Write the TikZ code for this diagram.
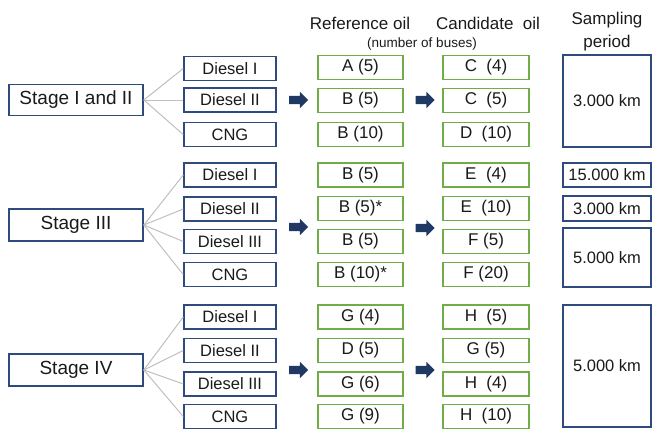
\documentclass[tikz,border=0pt]{standalone}
\usepackage{fontspec}
\setmainfont{Liberation Sans}
\usetikzlibrary{shapes.arrows}
\definecolor{navyline}{HTML}{2F4A7C}
\definecolor{navyfill}{HTML}{1F3864}
\definecolor{oilgreen}{HTML}{70AD47}
\definecolor{linkgray}{HTML}{BFBFBF}
\definecolor{txt}{HTML}{1A1A1A}
\tikzset{
	stagebox/.style={draw=navyline, line width=1.6pt, fill=white, minimum width=134pt, minimum height=31pt, inner sep=0pt, text=txt, font=\fontsize{19}{22}\selectfont},
	fuelbox/.style={draw=navyline, line width=1.5pt, fill=white, minimum width=92pt, minimum height=24pt, inner sep=0pt, text=txt, font=\fontsize{16.5}{19}\selectfont},
	oilbox/.style={draw=oilgreen, line width=1.5pt, fill=white, minimum width=85pt, minimum height=24pt, inner sep=0pt, text=txt, font=\fontsize{17}{20}\selectfont},
	periodbox/.style={draw=navyline, line width=1.6pt, fill=white, minimum width=88pt, inner sep=0pt, text=txt, font=\fontsize{16.5}{19}\selectfont},
	headtext/.style={text=txt, inner sep=0pt, font=\fontsize{17}{20}\selectfont},
	blockarrow/.style={single arrow, fill=navyfill, minimum height=19pt, inner xsep=0pt, inner ysep=4pt, single arrow head extend=4pt},
	link/.style={draw=linkgray, line width=1pt}
}
\begin{document}
\begin{tikzpicture}[x=1pt, y=-1pt]
		\useasboundingbox ( 0, 0 ) rectangle ( 652, 432 );

		% titles
		\node [headtext] (hRef) at ( 360, 23 ) {Reference oil};
		\node [headtext] (hCand) at ( 488, 23 ) {Candidate\ \ oil};
		\node [headtext, font=\fontsize{13.5}{16}\selectfont] (hBus) at ( 422, 44 ) {(number of buses)};
		\node [headtext] (hSamp) at ( 607, 20 ) {Sampling};
		\node [headtext] (hPer) at ( 607, 43 ) {period};

		% stage I and II
		\node [stagebox] (s1) at ( 76, 100 ) {Stage I and II};
		\node [fuelbox] (s1d1) at ( 230, 68.5 ) {Diesel I};
		\node [fuelbox] (s1d2) at ( 230, 100 ) {Diesel II};
		\node [fuelbox] (s1c) at ( 230, 134.5 ) {CNG};
		\draw [link] (s1.east) -- (s1d1.west);
		\draw [link] (s1.east) -- (s1d2.west);
		\draw [link] (s1.east) -- (s1c.west);
		\node [blockarrow] (s1a1) at ( 296.5, 100 ) {};
		\node [oilbox] (s1r1) at ( 360.5, 67.5 ) {A (5)};
		\node [oilbox] (s1r2) at ( 360.5, 100.5 ) {B (5)};
		\node [oilbox] (s1r3) at ( 360.5, 134.5 ) {B (10)};
		\node [blockarrow] (s1a2) at ( 423, 100 ) {};
		\node [oilbox, minimum width=86pt] (s1k1) at ( 486, 67.5 ) {C\ \ (4)};
		\node [oilbox, minimum width=86pt] (s1k2) at ( 486, 100.5 ) {C\ \ (5)};
		\node [oilbox, minimum width=86pt] (s1k3) at ( 486, 134.5 ) {D\ \ (10)};
		\node [periodbox, minimum height=92pt] (s1p) at ( 607, 101 ) {3.000 km};

		% stage III
		\node [stagebox, minimum height=32pt] (s3) at ( 76, 225 ) {Stage III};
		\node [fuelbox] (s3d1) at ( 230, 175 ) {Diesel I};
		\node [fuelbox] (s3d2) at ( 230, 209 ) {Diesel II};
		\node [fuelbox] (s3d3) at ( 230, 241.5 ) {Diesel III};
		\node [fuelbox] (s3c) at ( 230, 274.5 ) {CNG};
		\draw [link] (s3.east) -- (s3d1.west);
		\draw [link] (s3.east) -- (s3d2.west);
		\draw [link] (s3.east) -- (s3d3.west);
		\draw [link] (s3.east) -- (s3c.west);
		\node [blockarrow] (s3a1) at ( 296.5, 227 ) {};
		\node [oilbox] (s3r1) at ( 360.5, 175 ) {B (5)};
		\node [oilbox] (s3r2) at ( 360.5, 208.5 ) {B (5)*};
		\node [oilbox] (s3r3) at ( 360.5, 241.5 ) {B (5)};
		\node [oilbox] (s3r4) at ( 360.5, 274.5 ) {B (10)*};
		\node [blockarrow] (s3a2) at ( 423, 228 ) {};
		\node [oilbox, minimum width=86pt] (s3k1) at ( 486, 175 ) {E\ \ (4)};
		\node [oilbox, minimum width=86pt] (s3k2) at ( 486, 208.5 ) {E\ \ (10)};
		\node [oilbox, minimum width=86pt] (s3k3) at ( 486, 241.5 ) {F (5)};
		\node [oilbox, minimum width=86pt] (s3k4) at ( 486, 274.5 ) {F (20)};
		\node [periodbox, minimum height=24pt] (s3p1) at ( 607, 175 ) {15.000 km};
		\node [periodbox, minimum height=25pt] (s3p2) at ( 607, 208.5 ) {3.000 km};
		\node [periodbox, minimum height=59pt] (s3p3) at ( 607, 257.5 ) {5.000 km};

		% stage IV
		\node [stagebox, minimum height=32pt] (s4) at ( 76, 370 ) {Stage IV};
		\node [fuelbox] (s4d1) at ( 230, 317 ) {Diesel I};
		\node [fuelbox] (s4d2) at ( 230, 350.5 ) {Diesel II};
		\node [fuelbox] (s4d3) at ( 230, 384 ) {Diesel III};
		\node [fuelbox] (s4c) at ( 230, 416.5 ) {CNG};
		\draw [link] (s4.east) -- (s4d1.west);
		\draw [link] (s4.east) -- (s4d2.west);
		\draw [link] (s4.east) -- (s4d3.west);
		\draw [link] (s4.east) -- (s4c.west);
		\node [blockarrow] (s4a1) at ( 296.5, 370 ) {};
		\node [oilbox] (s4r1) at ( 360.5, 317 ) {G (4)};
		\node [oilbox] (s4r2) at ( 360.5, 350.5 ) {D (5)};
		\node [oilbox] (s4r3) at ( 360.5, 384 ) {G (6)};
		\node [oilbox] (s4r4) at ( 360.5, 416.5 ) {G (9)};
		\node [blockarrow] (s4a2) at ( 423, 370 ) {};
		\node [oilbox, minimum width=86pt] (s4k1) at ( 486, 317 ) {H\ \ (5)};
		\node [oilbox, minimum width=86pt] (s4k2) at ( 486, 350.5 ) {G (5)};
		\node [oilbox, minimum width=86pt] (s4k3) at ( 486, 384 ) {H\ \ (4)};
		\node [oilbox, minimum width=86pt] (s4k4) at ( 486, 416.5 ) {H\ \ (10)};
		\node [periodbox, minimum height=122pt] (s4p) at ( 607, 366 ) {5.000 km};
	\end{tikzpicture}
\end{document}
